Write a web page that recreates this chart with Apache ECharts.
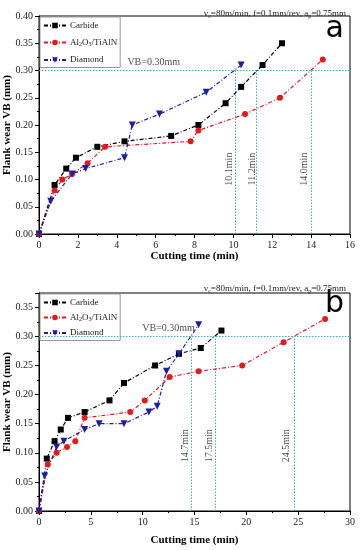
<!DOCTYPE html>
<html><head><meta charset="utf-8">
<script src="https://cdn.jsdelivr.net/npm/echarts@6/dist/echarts.min.js"></script>
<style>html,body{margin:0;padding:0;background:#fff}#c{width:361px;height:550px}</style>
</head><body><div id="c"></div>
<script>
// ---- Data: chart (a) ----
const carbideA = [[0,0],[0.8,0.09],[1.4,0.12],[1.9,0.14],[3.0,0.16],[4.4,0.17],[6.8,0.18],[8.2,0.20],[9.6,0.24],[10.4,0.27],[11.5,0.31],[12.5,0.35]];
const aluminaA = [[0,0],[0.8,0.08],[1.2,0.10],[1.7,0.11],[2.5,0.13],[3.4,0.16],[7.8,0.17],[8.2,0.19],[10.6,0.22],[12.4,0.25],[14.6,0.32]];
const diamondA = [[0,0],[0.6,0.06],[1.7,0.11],[2.4,0.12],[4.4,0.14],[4.8,0.20],[6.2,0.22],[8.6,0.26],[10.4,0.31]];
const lifeLinesA = [10.1, 11.2, 14.0];
const lifeLabelsA = [{x:9.77, y:0.119, text:'10.1min'},{x:11.0, y:0.119, text:'11.2min'},{x:13.65, y:0.119, text:'14.0min'}];
// ---- Data: chart (b) ----
const carbideB = [[0,0],[0.75,0.09],[1.5,0.12],[2.1,0.14],[2.8,0.16],[4.4,0.17],[6.8,0.19],[8.2,0.22],[11.2,0.25],[13.5,0.27],[15.6,0.28],[17.6,0.31]];
const aluminaB = [[0,0],[0.85,0.08],[1.7,0.10],[2.7,0.11],[3.5,0.12],[4.4,0.16],[8.8,0.17],[10.2,0.19],[12.6,0.23],[15.4,0.24],[19.6,0.25],[23.6,0.29],[27.6,0.33]];
const diamondB = [[0,0],[0.55,0.06],[1.7,0.11],[2.4,0.12],[4.4,0.14],[5.8,0.15],[8.2,0.15],[10.6,0.17],[11.4,0.18],[12.3,0.24],[13.5,0.27],[15.4,0.32]];
const lifeLinesB = [14.7, 17.0, 24.6];
const lifeLabelsB = [{x:14.15, y:0.112, text:'14.7min'},{x:16.4, y:0.112, text:'17.5min'},{x:23.9, y:0.112, text:'24.5min'}];
const vbLimit = 0.30;
const seriesNames = ['Carbide', 'Al2O3/TiAlN', 'Diamond'];

const SERIF = '"Liberation Serif","Times New Roman",serif';
const colors = {Carbide:'#000000', 'Al2O3/TiAlN':'#e3191c', Diamond:'#1c1ea6'};
const symbols = {Carbide:'rect', 'Al2O3/TiAlN':'circle', Diamond:'triangle'};
const dashDot = [4,2,1,2];

function lineSeries(name, data, idx){
  return {
    name, type:'line', data, xAxisIndex:idx, yAxisIndex:idx,
    symbol: symbols[name], symbolSize: name==='Diamond'?7:6,
    symbolRotate: name==='Diamond'?180:0,
    lineStyle:{color:colors[name], width:1.2, type:dashDot},
    itemStyle:{color:colors[name]},
    z: 5
  };
}
function refSeries(idx, lines, xmax){
  const data = lines.map(x => [{coord:[x,0]},{coord:[x,vbLimit]}]);
  data.push([{coord:[0,vbLimit]},{coord:[xmax,vbLimit]}]);
  return {
    type:'line', data:[], xAxisIndex:idx, yAxisIndex:idx, silent:true,
    markLine:{symbol:['none','none'], silent:true, animation:false,
      lineStyle:{color:'#3fa9b9', type:[1.5,1.5], width:1},
      label:{show:false}, data}
  };
}
function labelSeries(idx, labels){
  return {
    type:'scatter', xAxisIndex:idx, yAxisIndex:idx, symbolSize:0, silent:true,
    data: labels.map(l => ({value:[l.x,l.y], label:{formatter:l.text}})),
    label:{show:true, position:'inside', rotate:90, color:'#222', fontFamily:SERIF, fontSize:10}
  };
}
function vbSeries(idx, xpos){
  return {
    type:'scatter', xAxisIndex:idx, yAxisIndex:idx, symbolSize:0, silent:true,
    data:[{value:[xpos, vbLimit], label:{formatter:'VB=0.30mm'}}],
    label:{show:true, position:'top', distance:3, color:'#222', fontFamily:SERIF, fontSize:10}
  };
}
function xAxis(idx, max, interval){
  return {type:'value', gridIndex:idx, min:0, max, interval,
    name:'Cutting time (min)', nameLocation:'middle', nameGap: idx===0?17:24, nameMoveOverlap:false,
    nameTextStyle:{fontFamily:SERIF, fontWeight:'bold', fontSize:11, color:'#000'},
    axisLine:{show:true, onZero:false, lineStyle:{color:'#000', width:1}},
    axisTick:{show:true, length:4, lineStyle:{color:'#000'}},
    minorTick:{show:true, splitNumber:2, length:2, lineStyle:{color:'#000'}},
    splitLine:{show:false},
    axisLabel:{fontFamily:SERIF, fontSize:10, color:'#222', margin:6}
  };
}
function yAxis(idx, max){
  return {type:'value', gridIndex:idx, min:0, max, interval:0.05,
    name:'Flank wear VB (mm)', nameLocation:'middle', nameGap:26, nameMoveOverlap:false,
    nameTextStyle:{fontFamily:SERIF, fontWeight:'bold', fontSize:11, color:'#000'},
    axisLine:{show:true, onZero:false, lineStyle:{color:'#000', width:1}},
    axisTick:{show:true, length:4, lineStyle:{color:'#000'}},
    minorTick:{show:true, splitNumber:2, length:2, lineStyle:{color:'#000'}},
    splitLine:{show:false},
    axisLabel:{fontFamily:SERIF, fontSize:10, color:'#222', margin:6, showMaxLabel: idx===0,
      formatter: v => (Math.abs(v/0.05 - Math.round(v/0.05))<1e-6) ? v.toFixed(2) : ''}
  };
}
function legend(top, gap){
  return {
    left:40, top, orient:'vertical', itemWidth:22, itemHeight:7, itemGap:gap,
    padding:[4,3,3,3], borderColor:'#999', borderWidth:1, backgroundColor:'#fff',
    data: seriesNames, selectedMode:false,
    textStyle:{fontFamily:SERIF, fontSize:9, color:'#222', padding:[0,0,0,-1],
      rich:{s:{fontFamily:SERIF, fontSize:6, color:'#222', padding:[4,0,0,0]}, n:{fontFamily:SERIF, fontSize:9, color:'#222'}}},
    formatter: n => n==='Al2O3/TiAlN' ? '{n|Al}{s|2}{n|O}{s|3}{n|/TiAlN}' : n
  };
}
function subtitle(top){
  return {
    right: 10, top, text:'{n|v}{s|c}{n|=80m/min, f=0.1mm/rev, a}{s|p}{n|=0.75mm}',
    textStyle:{fontSize:9, fontWeight:'normal', fontFamily:SERIF, color:'#222',
      rich:{n:{fontFamily:SERIF, fontSize:9, color:'#222'}, s:{fontFamily:SERIF, fontSize:6, color:'#222', padding:[5,0,0,0]}}}
  };
}

const chart = echarts.init(document.getElementById('c'), null, {renderer:'canvas'});
chart.setOption({
  animation:false,
  backgroundColor:'#fff',
  title:[subtitle(3), subtitle(278)],
  legend:[legend(17, 8), legend(294, 6)],
  grid:[
    {left:39, top:16, width:311, height:218, show:true, borderColor:'#000', borderWidth:1, backgroundColor:'transparent', containLabel:false, outerBoundsMode:'none'},
    {left:39, top:293, width:311, height:218, show:true, borderColor:'#000', borderWidth:1, backgroundColor:'transparent', containLabel:false, outerBoundsMode:'none'}
  ],
  xAxis:[xAxis(0,16,2), xAxis(1,30,5)],
  yAxis:[yAxis(0,0.40), yAxis(1,0.3745)],
  graphic:[
    {type:'text', right:17, top:14, style:{text:'a', font:'30px "DejaVu Sans", sans-serif', fill:'#000'}},
    {type:'text', right:17, top:289, style:{text:'b', font:'30px "DejaVu Sans", sans-serif', fill:'#000'}}
  ],
  series:[
    refSeries(0, lifeLinesA, 16), labelSeries(0, lifeLabelsA), vbSeries(0, 5.9),
    lineSeries('Carbide', carbideA, 0), lineSeries('Al2O3/TiAlN', aluminaA, 0), lineSeries('Diamond', diamondA, 0),
    refSeries(1, lifeLinesB, 30), labelSeries(1, lifeLabelsB), vbSeries(1, 12.5),
    lineSeries('Carbide', carbideB, 1), lineSeries('Al2O3/TiAlN', aluminaB, 1), lineSeries('Diamond', diamondB, 1)
  ]
});
</script></body></html>
